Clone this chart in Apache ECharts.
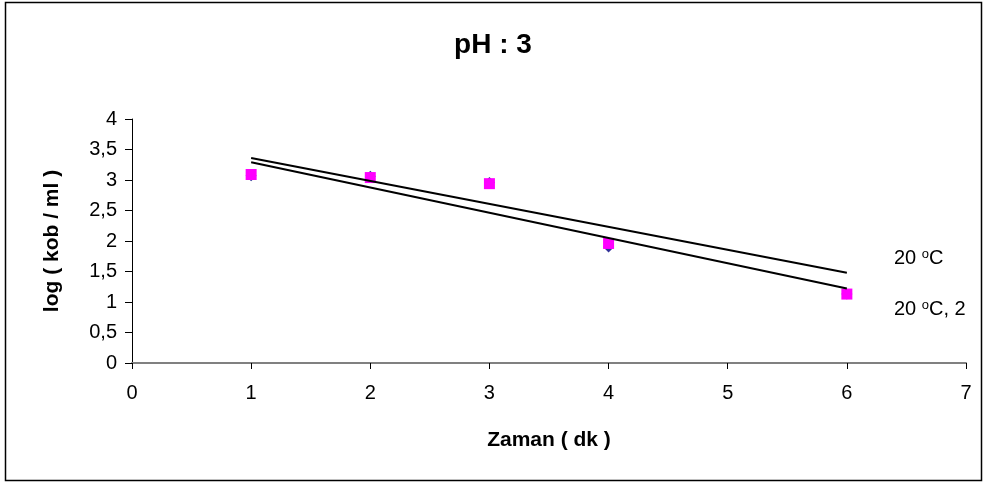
<!DOCTYPE html>
<html>
<head>
<meta charset="utf-8">
<script src="https://cdn.jsdelivr.net/npm/echarts@6/dist/echarts.min.js"></script>
<style>
html,body{margin:0;padding:0;background:#fff;}
#chart{width:986px;height:484px;}
</style>
</head>
<body>
<div id="chart"></div>
<script>
// Data
var xValues = [1, 2, 3, 4, 6];
var series1Values = [3.07, 3.06, 2.96, 1.90, 1.13];   // diamonds (dark blue)
var series2Values = [3.09, 3.04, 2.94, 1.96, 1.13];   // squares (magenta)
var trendX = [1, 6];
var trend1Values = [3.36, 1.48];   // "20 °C"
var trend2Values = [3.29, 1.22];   // "20 °C, 2"
var trendNames = ['20 °C', '20 °C, 2'];
var yTicks = [0, 0.5, 1, 1.5, 2, 2.5, 3, 3.5, 4];
var xTicks = [0, 1, 2, 3, 4, 5, 6, 7];

function pairs(xs, ys){ return xs.map(function(x,i){ return [x, ys[i]]; }); }

var chart = echarts.init(document.getElementById('chart'));
var font = 'Arial, "Liberation Sans", sans-serif';
chart.setOption({
  animation: false,
  backgroundColor: '#fff',
  title: {
    text: 'pH : 3',
    left: 'center',
    top: 26,
    textStyle: {fontFamily: font, fontSize: 28, fontWeight: 'bold', color: '#000'}
  },
  graphic: [{
    type: 'rect',
    shape: {x: 5.5, y: 2.5, width: 976, height: 478},
    style: {fill: 'none', stroke: '#000', lineWidth: 1.5},
    silent: true
  }],
  legend: {
    data: trendNames,
    orient: 'vertical',
    left: 884,
    top: 243,
    itemGap: 30,
    icon: 'none',
    itemWidth: 0,
    itemHeight: 0,
    formatter: function(name){
      return name.replace('°', '{s|o}');
    },
    textStyle: {
      fontFamily: font, fontSize: 20, color: '#000',
      rich: {s: {fontFamily: font, fontSize: 13, color: '#000', verticalAlign: 'top', padding: [0,0,8,0]}}
    }
  },
  grid: {left: 132, right: 20, top: 119, bottom: 121, containLabel: false},
  xAxis: {
    type: 'value', min: 0, max: 7, interval: 1,
    name: 'Zaman ( dk )', nameLocation: 'middle', nameGap: 67,
    nameTextStyle: {fontFamily: font, fontSize: 21, fontWeight: 'bold', color: '#000'},
    axisLine: {onZero: false, lineStyle: {color: '#808080', width: 2}},
    axisTick: {show: true, length: 6, lineStyle: {color: '#000'}},
    axisLabel: {fontFamily: font, fontSize: 20, color: '#000', margin: 20},
    splitLine: {show: false}
  },
  yAxis: {
    type: 'value', min: 0, max: 4, interval: 0.5,
    name: 'log ( kob / ml )', nameLocation: 'middle', nameGap: 69,
    nameTextStyle: {fontFamily: font, fontSize: 21, fontWeight: 'bold', color: '#000'},
    axisLine: {show: true, lineStyle: {color: '#000', width: 1}},
    axisTick: {show: true, length: 7, lineStyle: {color: '#000'}},
    axisLabel: {fontFamily: font, fontSize: 20, color: '#000', margin: 15,
      formatter: function(v){ return String(v).replace('.', ','); }},
    splitLine: {show: false}
  },
  series: [
    {
      name: 'diamonds', type: 'scatter', symbol: 'diamond', symbolSize: 11,
      itemStyle: {color: '#000080'}, data: pairs(xValues, series1Values), z: 3
    },
    {
      name: 'squares', type: 'scatter', symbol: 'rect', symbolSize: 11,
      itemStyle: {color: '#FF00FF', opacity: 1}, data: pairs(xValues, series2Values), z: 4
    },
    {
      name: trendNames[0], type: 'line', symbol: 'none', data: pairs(trendX, trend1Values),
      lineStyle: {color: '#000', width: 2}, itemStyle: {color: '#000'}, z: 5
    },
    {
      name: trendNames[1], type: 'line', symbol: 'none', data: pairs(trendX, trend2Values),
      lineStyle: {color: '#000', width: 2}, itemStyle: {color: '#000'}, z: 5
    }
  ]
});
</script>
</body>
</html>
